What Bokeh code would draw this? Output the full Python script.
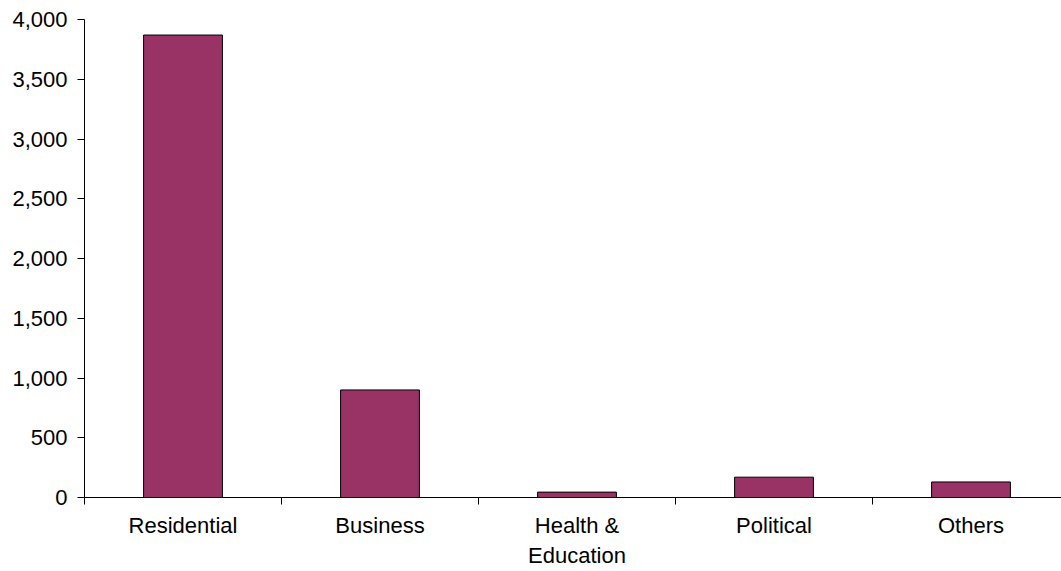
from bokeh.plotting import figure
from bokeh.models import Range1d, FixedTicker, NumeralTickFormatter, ColumnDataSource
from bokeh.embed import file_html
from bokeh.resources import INLINE

categories = ["Residential", "Business", "Health &\nEducation", "Political", "Others"]
values = [3870, 900, 45, 170, 130]

centers = [i + 0.5 for i in range(len(categories))]
src = ColumnDataSource(dict(x=centers, top=values))

p = figure(width=1061, height=571, output_backend="svg", toolbar_location=None,
           x_range=Range1d(0, 977 / 197), y_range=Range1d(0, 4000),
           min_border_left=84, min_border_right=0, min_border_top=19, min_border_bottom=74)

p.vbar(x="x", top="top", width=0.4, source=src, fill_color="#993366",
       line_color="#000000", line_width=1)

p.xgrid.visible = False
p.ygrid.visible = False
p.outline_line_color = None
p.background_fill_color = "white"
p.border_fill_color = "white"

font = "Liberation Sans"
xa = p.xaxis[0]
xa.ticker = FixedTicker(ticks=centers, minor_ticks=list(range(len(categories) + 1)))
xa.major_label_overrides = {c: lab for c, lab in zip(centers, categories)}
xa.major_tick_out = 0
xa.major_tick_in = 0
xa.minor_tick_out = 7
xa.minor_tick_in = 0
xa.major_label_text_font = font
xa.major_label_text_font_size = "22px"
xa.major_label_text_color = "#000000"
xa.major_label_standoff = 8
xa.axis_line_color = "#000000"
xa.minor_tick_line_color = "#000000"

ya = p.yaxis[0]
ya.ticker = FixedTicker(ticks=[0, 500, 1000, 1500, 2000, 2500, 3000, 3500, 4000])
ya.formatter = NumeralTickFormatter(format="0,0")
ya.major_tick_out = 7
ya.major_tick_in = 0
ya.minor_tick_out = 0
ya.minor_tick_in = 0
ya.major_label_text_font = font
ya.major_label_text_font_size = "22px"
ya.major_label_text_color = "#000000"
ya.major_label_standoff = 10
ya.axis_line_color = "#000000"
ya.major_tick_line_color = "#000000"

open("out.html", "w").write(file_html(p, INLINE))
